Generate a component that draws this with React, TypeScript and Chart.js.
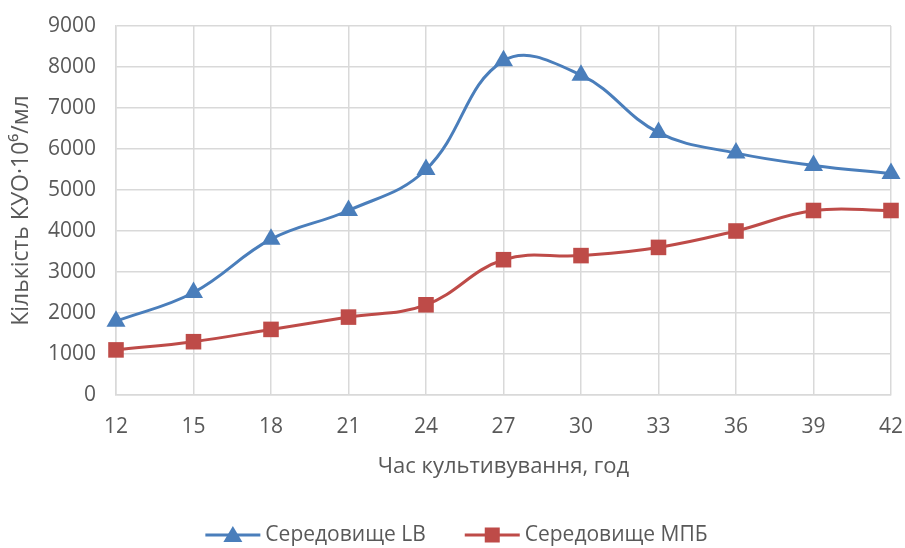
import React, { useEffect, useRef } from "react";
import { Chart, registerables } from "chart.js";

Chart.register(...registerables);

const hours = ["12", "15", "18", "21", "24", "27", "30", "33", "36", "39", "42"];
const lbValues = [1800, 2500, 3800, 4500, 5500, 8150, 7800, 6400, 5900, 5600, 5400];
const mpbValues = [1100, 1300, 1600, 1900, 2200, 3300, 3400, 3600, 4000, 4500, 4500];
const seriesNames = ["Середовище LB", "Середовище МПБ"];
const xTitle = "Час культивування, год";
const yTitle = "Кількість КУО·10⁶/мл";

const BLUE = "#4a7ebb";
const RED = "#be4b48";
const TEXT = "#595959";
const GRID = "#d9d9d9";
const FONT = "'Open Sans', 'Noto Sans', sans-serif";

// Bottom legend in spreadsheet style: a line segment with the marker on it, then the label.
const lineLegend = {
  id: "lineLegend",
  afterDraw(chart: any) {
    const { ctx } = chart;
    const lineLen = 55;
    const textGap = 5;
    const itemGap = 39;
    const y = chart.height - 13;
    ctx.save();
    ctx.font = `21px ${FONT}`;
    ctx.textBaseline = "middle";
    const items = chart.data.datasets.map((ds: any) => ({
      ds,
      w: lineLen + textGap + ctx.measureText(ds.label).width,
    }));
    const total = items.reduce((s: number, it: any) => s + it.w, 0) + itemGap * (items.length - 1);
    let x = chart.width / 2 + 4 - total / 2;
    for (const { ds, w } of items) {
      ctx.strokeStyle = ds.borderColor;
      ctx.fillStyle = ds.borderColor;
      ctx.lineWidth = 3;
      ctx.beginPath();
      ctx.moveTo(x, y);
      ctx.lineTo(x + lineLen, y);
      ctx.stroke();
      const mid = x + lineLen / 2;
      if (ds.pointStyle === "triangle") {
        ctx.beginPath();
        ctx.moveTo(mid, y - 9);
        ctx.lineTo(mid + 9.5, y + 7);
        ctx.lineTo(mid - 9.5, y + 7);
        ctx.closePath();
        ctx.fill();
      } else {
        ctx.fillRect(mid - 7.5, y - 7.5, 15, 15);
      }
      ctx.fillStyle = TEXT;
      ctx.textAlign = "left";
      ctx.fillText(ds.label, x + lineLen + textGap, y);
      x += w + itemGap;
    }
    ctx.restore();
  },
};

export default function App() {
  const canvasRef = useRef<HTMLCanvasElement | null>(null);

  useEffect(() => {
    document.body.style.margin = "0";
    const canvas = canvasRef.current;
    if (!canvas) return;

    const chart = new Chart(canvas, {
      type: "line",
      data: {
        labels: hours,
        datasets: [
          {
            label: seriesNames[0],
            data: lbValues,
            borderColor: BLUE,
            backgroundColor: BLUE,
            borderWidth: 3,
            tension: 0.4,
            pointStyle: "triangle",
            pointRadius: 11,
            pointBorderWidth: 0,
          },
          {
            label: seriesNames[1],
            data: mpbValues,
            borderColor: RED,
            backgroundColor: RED,
            borderWidth: 3,
            tension: 0.4,
            pointStyle: "rect",
            pointRadius: 11,
            pointBorderWidth: 0,
          },
        ],
      },
      options: {
        animation: false,
        responsive: false,
        layout: { padding: { top: 26, right: 14, left: 0, bottom: 63 } },
        scales: {
          x: {
            offset: false,
            grid: { color: GRID, lineWidth: 1.5, drawTicks: false },
            border: { color: GRID, width: 1.5 },
            ticks: { color: TEXT, font: { family: FONT, size: 21 }, padding: 19, maxRotation: 0 },
            title: {
              display: true,
              text: xTitle,
              color: TEXT,
              font: { family: FONT, size: 22 },
              padding: { top: 0, bottom: 5 },
            },
            afterFit: (scale: any) => {
              scale.height = 90;
              scale.paddingLeft = 0;
              scale.paddingRight = 0;
            },
          },
          y: {
            min: 0,
            max: 9000,
            grid: { color: GRID, lineWidth: 1.5, drawTicks: false },
            border: { color: GRID, width: 1.5 },
            ticks: {
              stepSize: 1000,
              color: TEXT,
              font: { family: FONT, size: 21 },
              padding: 20,
              callback: (v: any) => String(v),
            },
            title: {
              display: true,
              text: yTitle,
              color: TEXT,
              font: { family: FONT, size: 23 },
              padding: { top: 8, bottom: 0 },
            },
            afterFit: (scale: any) => {
              scale.width = 116;
              scale.paddingTop = 0;
              scale.paddingBottom = 0;
            },
          },
        },
        plugins: {
          legend: { display: false },
          tooltip: { enabled: false },
        },
      },
      plugins: [lineLegend],
    });
    return () => chart.destroy();
  }, []);

  return (
    <div style={{ width: 905, height: 548, background: "#fff" }}>
      <canvas ref={canvasRef} width={905} height={548} />
    </div>
  );
}
